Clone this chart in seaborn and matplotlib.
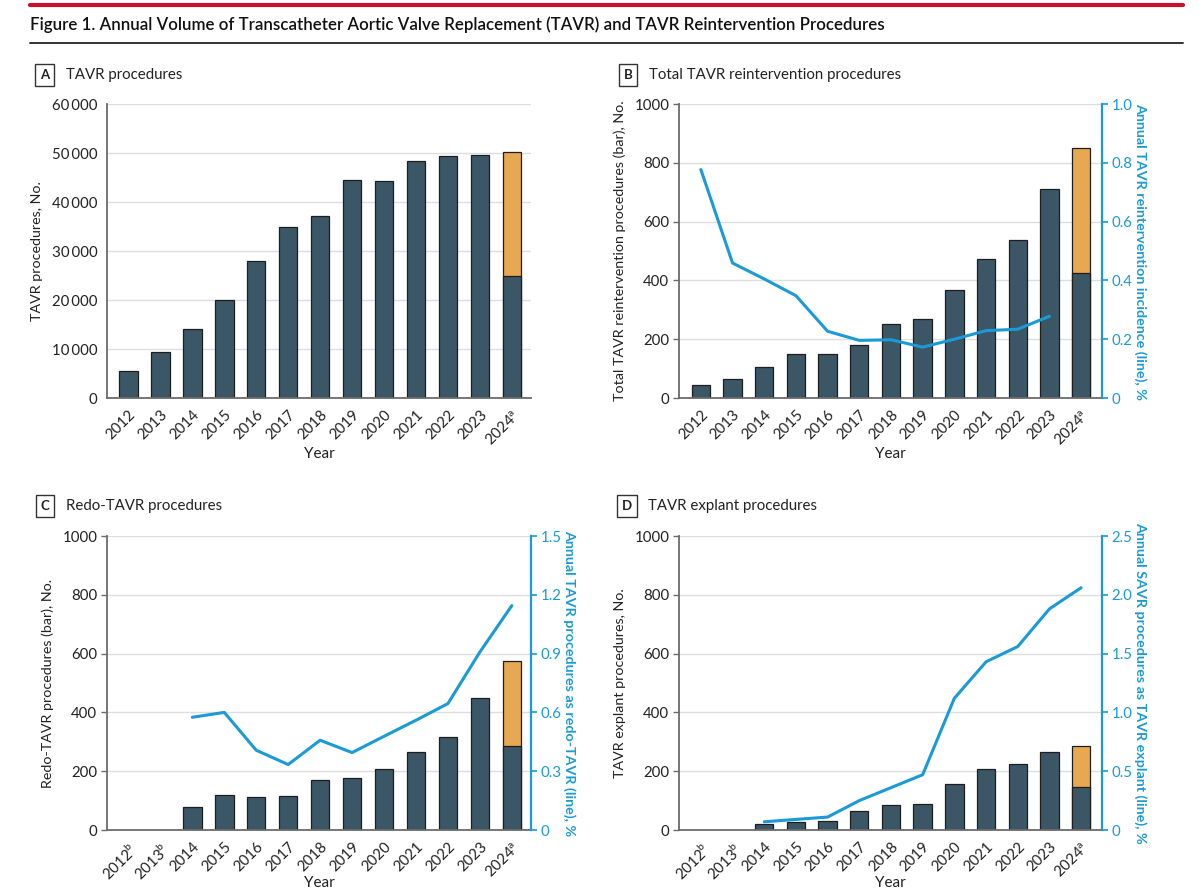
import matplotlib
matplotlib.use("Agg")
import matplotlib.pyplot as plt
from matplotlib.lines import Line2D
from matplotlib.ticker import FuncFormatter
import seaborn as sns
import numpy as np
import pandas as pd

# ---- data ----
YEARS = list(range(2012, 2025))
LABELS_AB = [str(y) for y in YEARS[:-1]] + ["2024$^{\\mathrm{a}}$"]
LABELS_CD = ["2012$^{\\mathrm{b}}$", "2013$^{\\mathrm{b}}$"] + [str(y) for y in YEARS[2:-1]] + ["2024$^{\\mathrm{a}}$"]

tavr_observed = [5500, 9400, 14100, 20000, 28000, 34800, 37200, 44500, 44200, 48300, 49300, 49500, 25000]
tavr_projected_2024 = 25300

reint_observed = [44, 66, 105, 150, 150, 179, 253, 268, 366, 473, 536, 711, 424]
reint_projected_2024 = 426
reint_rate_years = list(range(2012, 2024))
reint_rate = [0.777, 0.459, 0.405, 0.348, 0.227, 0.196, 0.198, 0.173, 0.200, 0.229, 0.234, 0.278]

redo_observed = [np.nan, np.nan, 77, 119, 113, 115, 169, 176, 208, 266, 318, 450, 285]
redo_projected_2024 = 289
redo_rate_years = list(range(2014, 2025))
redo_rate = [0.575, 0.600, 0.407, 0.334, 0.458, 0.395, 0.478, 0.560, 0.645, 0.908, 1.145]

explant_observed = [np.nan, np.nan, 20, 28, 32, 63, 85, 89, 158, 206, 223, 266, 145]
explant_projected_2024 = 142
explant_rate_years = list(range(2014, 2025))
explant_rate = [0.07, 0.09, 0.11, 0.25, 0.36, 0.47, 1.12, 1.43, 1.56, 1.88, 2.06]

SLATE = "#3b5766"
ORANGE = "#e6a850"
BLUE = "#1a9ad6"
EDGE = "#1e1e1e"
AXIS_GRAY = "#6b6b6b"
TEXT = "#222222"

sns.set_theme(style="white")
plt.rcParams["font.family"] = ["Lato", "DejaVu Sans"]
plt.rcParams["mathtext.fontset"] = "custom"
plt.rcParams["mathtext.rm"] = "Lato"
plt.rcParams["text.color"] = TEXT
plt.rcParams["axes.labelcolor"] = TEXT
plt.rcParams["xtick.color"] = TEXT
plt.rcParams["ytick.color"] = TEXT

TICK_SIZE = 10.8
LABEL_SIZE = 10.3

W, H = 1199, 892
fig = plt.figure(figsize=(W / 100, H / 100), dpi=100)


def px_axes(left, top, right, bottom):
    return fig.add_axes([left / W, 1 - bottom / H, (right - left) / W, (bottom - top) / H])


def thin_thousands(v, pos):
    return f"{int(v):,}".replace(",", "\u2009")


def draw_bars(ax, labels, observed, projected):
    totals = [np.nan] * (len(observed) - 1) + [observed[-1] + projected]
    df = pd.DataFrame({"year": labels, "observed": observed, "total": totals})
    sns.barplot(data=df, x="year", y="total", order=labels, color=ORANGE, saturation=1,
                width=0.58, edgecolor=EDGE, linewidth=0.9, errorbar=None, ax=ax)
    sns.barplot(data=df, x="year", y="observed", order=labels, color=SLATE, saturation=1,
                width=0.58, edgecolor=EDGE, linewidth=0.9, errorbar=None, ax=ax)


def style_main(ax, labels, ymax, ystep, ylabel, xlim, year_y, fmt=None):
    ax.set_ylim(0, ymax)
    ax.set_yticks(np.arange(0, ymax + 1, ystep))
    if fmt is not None:
        ax.yaxis.set_major_formatter(FuncFormatter(fmt))
    ax.set_xticks(range(len(labels)))
    ax.set_xticklabels(labels, rotation=45, ha="right", rotation_mode="anchor")
    ax.set_xlim(*xlim)
    ax.grid(axis="y", color="#dedede", linewidth=1)
    ax.set_axisbelow(True)
    for s in ["top", "right"]:
        ax.spines[s].set_visible(False)
    for s in ["left", "bottom"]:
        ax.spines[s].set_color(AXIS_GRAY)
        ax.spines[s].set_linewidth(1.3)
    ax.tick_params(axis="both", labelsize=TICK_SIZE, length=4, width=1, color=AXIS_GRAY, pad=3)
    ax.set_xlabel("Year", fontsize=11)
    ax.xaxis.set_label_coords(0.5, year_y)
    ax.set_ylabel(ylabel, fontsize=LABEL_SIZE, labelpad=6)


def draw_rate(ax, rate_years, rate, ymax, ystep, ylabel, xlim):
    ax2 = ax.twinx()
    df = pd.DataFrame({"pos": [YEARS.index(y) for y in rate_years], "rate": rate})
    sns.lineplot(data=df, x="pos", y="rate", color=BLUE, linewidth=2.2, ax=ax2)
    ax2.set_ylim(0, ymax)
    ax2.set_yticks(np.arange(0, ymax + 1e-9, ystep))
    ax2.yaxis.set_major_formatter(FuncFormatter(lambda v, p: "0" if v == 0 else f"{v:.1f}"))
    for s in ["top", "left", "bottom"]:
        ax2.spines[s].set_visible(False)
    ax2.spines["right"].set_color(BLUE)
    ax2.spines["right"].set_linewidth(1.6)
    ax2.tick_params(axis="y", colors=BLUE, labelsize=TICK_SIZE, length=4, width=1.2, pad=3)
    ax2.set_ylabel(ylabel, color=BLUE, fontsize=LABEL_SIZE, fontweight="bold", rotation=270, labelpad=10)
    ax2.set_xlim(*xlim)
    return ax2


def panel_header(x, y, letter, title):
    fig.text(x / W, 1 - y / H, letter, fontsize=9.5, fontweight="bold", va="center", ha="center",
             bbox=dict(boxstyle="square,pad=0.38", fc="white", ec="#333333", lw=1))
    fig.text((x + 21) / W, 1 - y / H, title, fontsize=10.8, va="center", ha="left")


# ---- header ----
fig.add_artist(Line2D([30 / W, 1183 / W], [1 - 5 / H, 1 - 5 / H], color="#c8102e", lw=3))
fig.text(30 / W, 1 - 25 / H,
         "Figure 1. Annual Volume of Transcatheter Aortic Valve Replacement (TAVR) and TAVR Reintervention Procedures",
         fontsize=12.2, va="center", ha="left", color="#111111", fontweight="semibold")
fig.add_artist(Line2D([30 / W, 1183 / W], [1 - 43 / H, 1 - 43 / H], color="#333333", lw=1.4))

XLIM_L = (-0.67, 12.6)
XLIM_R = (-0.69, 12.66)

# ---- A ----
axA = px_axes(107, 104, 531, 398)
draw_bars(axA, LABELS_AB, tavr_observed, tavr_projected_2024)
style_main(axA, LABELS_AB, 60000, 10000, "TAVR procedures, No.", XLIM_L, -0.165, thin_thousands)
panel_header(44.5, 75, "A", "TAVR procedures")

# ---- B ----
axB = px_axes(679, 104, 1102, 398)
draw_bars(axB, LABELS_AB, reint_observed, reint_projected_2024)
style_main(axB, LABELS_AB, 1000, 200, "Total TAVR reintervention procedures (bar), No.", XLIM_R, -0.165)
draw_rate(axB, reint_rate_years, reint_rate, 1.0, 0.2,
          "Annual TAVR reintervention incidence (line), %", XLIM_R)
panel_header(628, 75, "B", "Total TAVR reintervention procedures")

# ---- C ----
axC = px_axes(107, 536, 531, 830)
draw_bars(axC, LABELS_CD, redo_observed, redo_projected_2024)
style_main(axC, LABELS_CD, 1000, 200, "Redo-TAVR procedures (bar), No.", XLIM_L, -0.155)
draw_rate(axC, redo_rate_years, redo_rate, 1.5, 0.3,
          "Annual TAVR procedures as redo-TAVR (line), %", XLIM_L)
panel_header(45, 506, "C", "Redo-TAVR procedures")

# ---- D ----
axD = px_axes(679, 536, 1102, 830)
draw_bars(axD, LABELS_CD, explant_observed, explant_projected_2024)
style_main(axD, LABELS_CD, 1000, 200, "TAVR explant procedures, No.", XLIM_R, -0.155)
draw_rate(axD, explant_rate_years, explant_rate, 2.5, 0.5,
          "Annual SAVR procedures as TAVR explant (line), %", XLIM_R)
panel_header(627, 506, "D", "TAVR explant procedures")

fig.savefig("out.png", dpi=100)
